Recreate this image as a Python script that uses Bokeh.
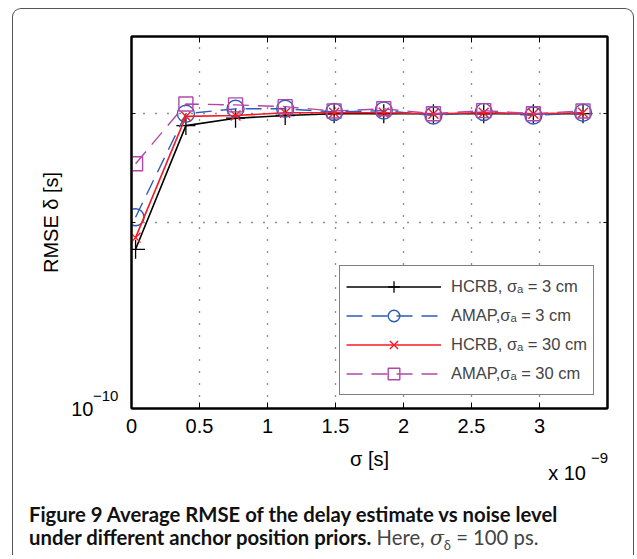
from bokeh.plotting import figure
from bokeh.models import (Range1d, FixedTicker, LinearAxis, LogAxis, Legend,
                          LegendItem, Div)
from bokeh.layouts import column
from bokeh.embed import file_html
from bokeh.resources import INLINE

# ---- data (sigma in units of 1e-9 s, RMSE in s) ----
sigma_ns = [0.03, 0.40, 0.765, 1.13, 1.49, 1.855, 2.22, 2.59, 2.955, 3.32]
hcrb_3cm = [1.81e-10, 2.87e-10, 2.95e-10, 2.98e-10, 3.00e-10, 3.00e-10,
            3.00e-10, 3.00e-10, 3.00e-10, 3.00e-10]
amap_3cm = [2.04e-10, 3.00e-10, 3.055e-10, 3.055e-10, 3.02e-10, 3.035e-10,
            2.98e-10, 3.02e-10, 2.98e-10, 3.01e-10]
hcrb_30cm = [1.89e-10, 2.97e-10, 2.98e-10, 3.01e-10, 3.01e-10, 3.01e-10,
             3.00e-10, 3.01e-10, 3.00e-10, 3.01e-10]
amap_30cm = [2.49e-10, 3.11e-10, 3.10e-10, 3.08e-10, 3.03e-10, 3.055e-10,
             3.00e-10, 3.035e-10, 3.00e-10, 3.03e-10]

x_ticks = [0, 0.5, 1, 1.5, 2, 2.5, 3]
x_tick_labels = ["0", "0.5", "1", "1.5", "2", "2.5", "3"]
y_ticks = [1e-10]
y_tick_labels = ["10"]
y_tick_exponent = "\u221210"
x_multiplier = "x 10"
x_multiplier_exponent = "\u22129"
y_minor = [2e-10, 3e-10]

series_labels = ["HCRB, \u03c3\u2090 = 3 cm", "AMAP,\u03c3\u2090 = 3 cm",
                 "HCRB, \u03c3\u2090 = 30 cm", "AMAP,\u03c3\u2090 = 30 cm"]

FONT = "Liberation Sans"

p = figure(width=620, height=490, x_range=Range1d(0, 3.5),
           y_range=Range1d(1e-10, 4e-10), y_axis_type="log",
           output_backend="svg", toolbar_location=None,
           min_border_left=118, min_border_right=26, min_border_top=27,
           min_border_bottom=91)
p.background_fill_color = "white"
p.border_fill_color = None
p.outline_line_color = "black"
p.outline_line_width = 2

xt = FixedTicker(ticks=x_ticks)
yt = FixedTicker(ticks=y_ticks, minor_ticks=y_minor)

xa = p.xaxis[0]
xa.ticker = xt
xa.major_label_overrides = {t: l for t, l in zip(x_ticks, x_tick_labels)}
xa.axis_label = "\u03c3 [s]"
ya = p.yaxis[0]
ya.ticker = yt
ya.major_label_overrides = {t: l for t, l in zip(y_ticks, y_tick_labels)}
ya.axis_label = "RMSE \u03b4 [s]"

for ax in (xa, ya):
    ax.axis_line_width = 2
    ax.major_tick_in = 6
    ax.major_tick_out = 0
    ax.minor_tick_in = 4
    ax.minor_tick_out = 0
    ax.major_tick_line_width = 1
    ax.major_label_text_font = FONT
    ax.major_label_text_font_size = "20px"
    ax.major_label_text_color = "black"
    ax.axis_label_text_font = FONT
    ax.axis_label_text_font_size = "20px"
    ax.axis_label_text_font_style = "normal"
    ax.axis_label_text_color = "black"
xa.major_label_standoff = 10
ya.major_label_standoff = 38
xa.axis_label_standoff = 12
ya.axis_label_standoff = 6

top_ax = LinearAxis(ticker=xt, major_tick_in=6, major_tick_out=0,
                    minor_tick_in=0, minor_tick_out=0, axis_line_width=2,
                    major_label_overrides={t: "" for t in x_ticks},
                    major_label_standoff=0, major_label_text_font_size="1px")
p.add_layout(top_ax, "above")
right_ax = LogAxis(ticker=yt, major_tick_in=6, major_tick_out=0,
                   minor_tick_in=4, minor_tick_out=0, axis_line_width=2,
                   major_label_overrides={t: "" for t in y_ticks},
                   major_label_standoff=0, major_label_text_font_size="1px")
p.add_layout(right_ax, "right")

p.xgrid.ticker = xt
p.xgrid.grid_line_color = "#222222"
p.xgrid.grid_line_dash = "1 11"
p.xgrid.grid_line_width = 1.3
p.ygrid.ticker = yt
p.ygrid.grid_line_color = None
p.ygrid.minor_grid_line_color = "#222222"
p.ygrid.minor_grid_line_dash = "1 11"
p.ygrid.minor_grid_line_width = 1.3

BLACK = "#000000"
BLUE = "#2a5cb8"
RED = "#f41c24"
MAG = "#b248a6"

l1 = p.line(sigma_ns, hcrb_3cm, line_color=BLACK, line_width=1.6)
s1 = p.scatter(sigma_ns, hcrb_3cm, marker="cross", size=19, line_color=BLACK,
               fill_color=None, line_width=1.3)
l2 = p.line(sigma_ns, amap_3cm, line_color=BLUE, line_width=1.4, line_dash="16 9")
s2 = p.scatter(sigma_ns, amap_3cm, marker="circle", size=17, line_color=BLUE,
               fill_color=None, line_width=1.4)
l3 = p.line(sigma_ns, hcrb_30cm, line_color=RED, line_width=1.6)
s3 = p.scatter(sigma_ns, hcrb_30cm, marker="x", size=14, line_color=RED,
               fill_color=None, line_width=1.4)
l4 = p.line(sigma_ns, amap_30cm, line_color=MAG, line_width=1.4, line_dash="16 9")
s4 = p.scatter(sigma_ns, amap_30cm, marker="square", size=14, line_color=MAG,
               fill_color=None, line_width=1.4)

legend = Legend(items=[
    LegendItem(label=series_labels[0], renderers=[l1, s1]),
    LegendItem(label=series_labels[1], renderers=[l2, s2]),
    LegendItem(label=series_labels[2], renderers=[l3, s3]),
    LegendItem(label=series_labels[3], renderers=[l4, s4]),
], location="bottom_right")
legend.margin = 13
legend.padding = 6
legend.spacing = 0
legend.label_height = 29
legend.glyph_height = 29
legend.glyph_width = 95
legend.label_standoff = 10
legend.label_text_font = FONT
legend.label_text_font_size = "16.5px"
legend.border_line_color = "black"
legend.border_line_width = 1.5
legend.background_fill_color = "white"
legend.background_fill_alpha = 1.0
p.add_layout(legend)

# exponents of the y tick label (10^-10) and of the x-axis multiplier (x 10^-9),
# overlaid as text on the lower part of the figure
overlay = Div(
    text=('<div style="position:relative; width:620px; height:111px; '
          'font-family:\'Liberation Sans\', Arial, sans-serif; color:black;">'
          '<span style="position:absolute; left:80px; top:0px; font-size:15px; '
          'line-height:15px;">' + y_tick_exponent + '</span>'
          '<span style="position:absolute; right:47px; top:75px; font-size:20px; '
          'line-height:20px; white-space:nowrap;">' + x_multiplier + '</span>'
          '<span style="position:absolute; right:25px; top:62px; font-size:15px; '
          'line-height:15px;">' + x_multiplier_exponent + '</span></div>'),
    width=620, height=111, margin=(-111, 0, 0, 0))

caption = Div(
    text=('<div style="padding:4px 0 0 16px; font-family:Lato, \'Open Sans\', sans-serif; '
          'font-size:20.3px; line-height:23px; color:#111; white-space:nowrap;">'
          '<b>Figure 9 Average RMSE of the delay estimate vs noise level</b><br>'
          '<b>under different anchor position priors.</b> '
          '<span style="color:#444; font-weight:normal;">Here, '
          '<i style="font-family:\'DejaVu Serif\', serif;">\u03c3</i><sub style="font-size:13px">\u03b4</sub>'
          ' = 100 ps.</span></div>'),
    width=620, height=56, margin=(0, 0, 0, 0))

layout = column(p, overlay, caption, margin=(8, 0, 0, 12),
                styles={"border": "1px solid #555555", "border-bottom": "none",
                        "border-radius": "9px 9px 0 0"})

open("out.html", "w").write(file_html(layout, INLINE))
